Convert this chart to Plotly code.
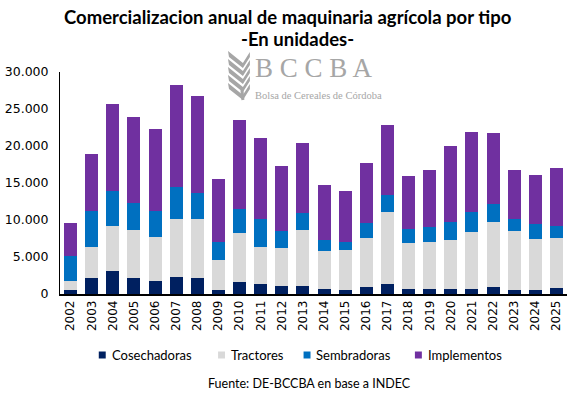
import plotly.graph_objects as go

years = [str(y) for y in range(2002, 2026)]
cosechadoras = [585, 2210, 3150, 2210, 1800, 2340, 2210, 590, 1670, 1400, 1130, 1130,
                720, 590, 990, 1400, 720, 720, 720, 720, 990, 590, 590, 860]
tractores = [1215, 4190, 6080, 6480, 5950, 7840, 7970, 4050, 6620, 5000, 5130, 7560,
             5140, 5400, 6620, 9730, 6220, 6350, 6620, 7700, 8780, 7970, 6890, 6750]
sembradoras = [3380, 4860, 4640, 3650, 3510, 4230, 3510, 2430, 3240, 3780, 2300, 2300,
               1480, 1080, 2030, 2200, 1800, 2030, 2430, 2710, 2440, 1620, 2020, 1620]
implementos = [4460, 7700, 11850, 11620, 11080, 13880, 13110, 8520, 12030, 10950, 8780, 9460,
               7430, 6890, 8110, 9550, 7250, 7700, 10280, 10810, 9590, 6620, 6630, 7840]
yticks = [0, 5000, 10000, 15000, 20000, 25000, 30000]
series_names = ["Cosechadoras", "Tractores", "Sembradoras", "Implementos"]
series_colors = ["#002060", "#D9D9D9", "#0070C0", "#7030A0"]
series_values = [cosechadoras, tractores, sembradoras, implementos]

W, H = 572, 393
ML, MR, MT, MB = 57, 5, 72, 99
PW, PH = W - ML - MR, H - MT - MB


def px(x):
    return (x - ML) / PW


def py(y):
    return (H - MB - y) / PH


fig = go.Figure()
for name, vals, col in zip(series_names, series_values, series_colors):
    fig.add_trace(go.Bar(x=years, y=vals, name=name, showlegend=False,
                         marker=dict(color=col, line=dict(width=0))))

annotations = [
    dict(text="<b>Comercializacion anual de maquinaria agrícola por tipo</b>", x=px(286), y=py(17),
         font=dict(size=18.5, family="Lato, Liberation Sans, sans-serif", color="black")),
    dict(text="<b>-En unidades-</b>", x=px(296), y=py(39),
         font=dict(size=18.5, family="Lato, Liberation Sans, sans-serif", color="black")),
    dict(text="Fuente: DE-BCCBA en base a INDEC", x=px(308), y=py(383),
         font=dict(size=12.5, family="Lato, Open Sans, sans-serif", color="black")),
    dict(text="B C C B A", x=px(313), y=py(68),
         font=dict(size=27, family="Liberation Serif, serif", color="#A6A6A6")),
    dict(text="Bolsa de Cereales de Córdoba", x=px(317), y=py(95),
         font=dict(size=10.5, family="Liberation Serif, serif", color="#A6A6A6")),
]
for a in annotations:
    a.update(xref="paper", yref="paper", xanchor="center", yanchor="middle", showarrow=False)

shapes = []
# custom legend
leg_sq_x = [96, 216, 302, 414]
for name, col, sx in zip(series_names, series_colors, leg_sq_x):
    shapes.append(dict(type="rect", xref="paper", yref="paper", x0=px(sx), x1=px(sx + 7),
                       y0=py(358.5), y1=py(351.5), fillcolor=col, line=dict(width=0)))
    annotations.append(dict(text=name, xref="paper", yref="paper", x=px(sx + 11), y=py(355),
                            xanchor="left", yanchor="middle", showarrow=False,
                            font=dict(size=13, family="Lato, Open Sans, sans-serif", color="black")))

# wheat logo
for cy in [55, 63, 71, 79, 87]:
    path = "M {} {} L {} {} L {} {} L {} {} L {} {} L {} {} Z".format(
        px(241), py(cy + 8), px(226), py(cy - 4), px(227), py(cy + 2),
        px(241), py(cy + 13), px(248), py(cy + 2), px(248), py(cy - 3))
    shapes.append(dict(type="path", xref="paper", yref="paper", path=path,
                       fillcolor="#A6A6A6", line=dict(width=0)))
shapes.append(dict(type="line", xref="paper", yref="paper", x0=px(241), x1=px(240),
                   y0=py(100), y1=py(90), line=dict(color="#A6A6A6", width=3)))

fig.update_layout(
    width=W, height=H,
    barmode="stack", bargap=0.38,
    paper_bgcolor="white", plot_bgcolor="white",
    separators=",.",
    margin=dict(l=ML, r=MR, t=MT, b=MB),
    font=dict(family="Lato, Open Sans, sans-serif", color="black"),
    showlegend=False,
    xaxis=dict(type="category", tickangle=-90, showline=True, linecolor="black", linewidth=1.5,
               ticks="", tickfont=dict(size=12, family="DejaVu Sans, sans-serif"), showgrid=False),
    yaxis=dict(range=[0, 30000], tickvals=yticks, tickformat=",d", showline=True, linecolor="black",
               linewidth=1, ticks="", showgrid=False, zeroline=False, ticklabelstandoff=8,
               tickfont=dict(size=12.5, family="DejaVu Sans, sans-serif")),
    annotations=annotations,
    shapes=shapes,
)
fig.write_html("out.html", config={"responsive": False, "displayModeBar": False},
               post_script="document.body.style.margin='0';document.body.style.overflow='hidden';")
